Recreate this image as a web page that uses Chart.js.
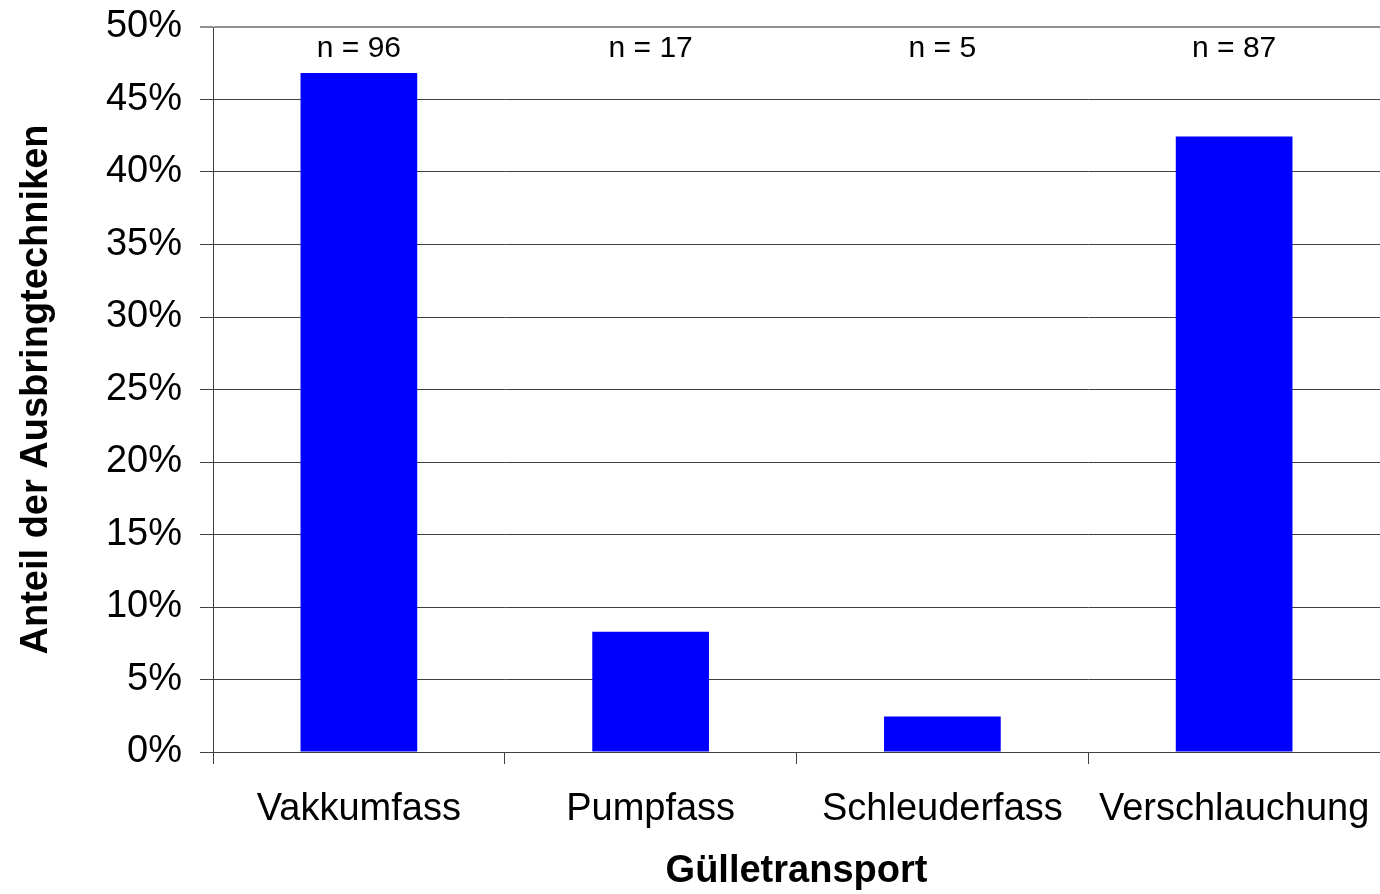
<!DOCTYPE html>
<html lang="de">
  <head>
    <meta charset="UTF-8" />
    <style>
      body {
        margin: 0;
        background-color: rgb(255, 255, 255);
      }
      canvas {
        display: block;
      }
    </style>
    <script src="https://cdn.jsdelivr.net/npm/chart.js"></script>
    <title>Gülletransport</title>
  </head>
  <body>
    <canvas id="chart" width="1380" height="894"></canvas>

    <script>
      // data
      const categories = ["Vakkumfass", "Pumpfass", "Schleuderfass", "Verschlauchung"];
      const counts = [96, 17, 5, 87];
      const shares = [46.83, 8.29, 2.44, 42.44]; // percent
      const yTicks = [0, 5, 10, 15, 20, 25, 30, 35, 40, 45, 50];

      const font = "'Liberation Sans', Arial, sans-serif";

      // "n = .." labels across the top of the plot
      const countLabels = {
        id: "countLabels",
        afterDatasetsDraw(chart) {
          const ctx = chart.ctx;
          const x = chart.scales.x;
          const y = chart.scales.y;
          ctx.save();
          ctx.font = "30px " + font;
          ctx.fillStyle = "#000";
          ctx.textAlign = "center";
          ctx.textBaseline = "middle";
          counts.forEach((n, i) => {
            ctx.fillText("n = " + n, x.getPixelForValue(i), y.getPixelForValue(48.5));
          });
          ctx.restore();
        },
      };

      new Chart(document.getElementById("chart"), {
        type: "bar",
        data: {
          labels: categories,
          datasets: [
            {
              data: shares,
              backgroundColor: "#0000ff",
              borderWidth: 0,
              barPercentage: 0.4,
              categoryPercentage: 1.0,
            },
          ],
        },
        options: {
          responsive: false,
          animation: false,
          layout: { padding: { top: 27, right: 0, bottom: 0, left: 0 } },
          plugins: {
            legend: { display: false },
            tooltip: { enabled: false },
          },
          scales: {
            x: {
              afterFit(scale) {
                scale.height = 142;
                scale.paddingLeft = 0;
                scale.paddingRight = 0;
              },
              grid: {
                offset: true,
                drawOnChartArea: false,
                drawTicks: true,
                tickLength: 12,
                color: "#404040",
              },
              border: { color: "#404040", width: 1 },
              ticks: {
                color: "#000",
                font: { family: font, size: 38 },
                padding: 23,
                maxRotation: 0,
                autoSkip: false,
              },
              title: {
                display: true,
                text: "Gülletransport",
                color: "#000",
                font: { family: font, size: 38, weight: "bold" },
                padding: { top: 16, bottom: 0 },
              },
            },
            y: {
              min: 0,
              max: 50,
              afterFit(scale) {
                scale.width = 213;
                scale.paddingTop = 0;
                scale.paddingBottom = 0;
              },
              afterBuildTicks(scale) {
                scale.ticks = yTicks.map((v) => ({ value: v }));
              },
              grid: {
                color: (c) => (c.tick && c.tick.value === 50 ? "#909090" : "#404040"),
                lineWidth: (c) => (c.tick && c.tick.value === 50 ? 2 : 1),
                tickLength: 13,
              },
              border: { color: "#404040", width: 1 },
              ticks: {
                color: "#000",
                font: { family: font, size: 38 },
                padding: 18,
                callback: (v) => v + "%",
              },
              title: {
                display: true,
                text: "Anteil der Ausbringtechniken",
                color: "#000",
                font: { family: font, size: 38, weight: "bold" },
                padding: { top: 14, bottom: 0 },
              },
            },
          },
        },
        plugins: [countLabels],
      });
    </script>
  </body>
</html>
